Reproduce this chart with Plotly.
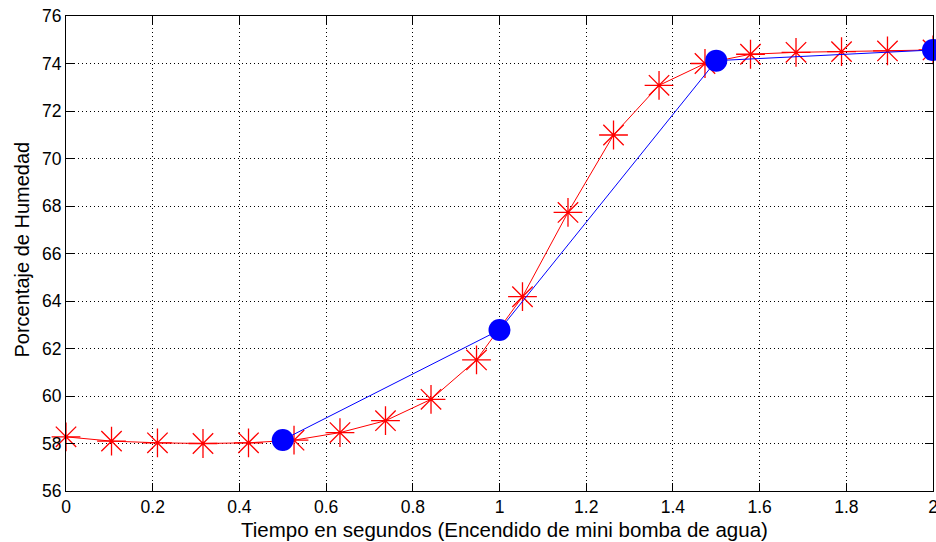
import plotly.graph_objects as go

# Red series (interpolated curve, 20 samples)
t_red = [0.0, 0.105, 0.211, 0.316, 0.421, 0.526, 0.632, 0.737, 0.842, 0.947,
         1.053, 1.158, 1.263, 1.368, 1.474, 1.579, 1.684, 1.789, 1.895, 2.0]
h_red = [58.28, 58.10, 58.03, 58.00, 58.03, 58.14, 58.46, 58.96, 59.86, 61.52,
         64.18, 67.73, 70.99, 73.08, 74.00, 74.39, 74.47, 74.50, 74.53, 74.57]

# Blue series (measured points)
t_blue = [0.5, 1.0, 1.5, 2.0]
h_blue = [58.15, 62.78, 74.12, 74.57]

x_ticks = [0, 0.2, 0.4, 0.6, 0.8, 1, 1.2, 1.4, 1.6, 1.8, 2]
x_ticklabels = ["0", "0.2", "0.4", "0.6", "0.8", "1", "1.2", "1.4", "1.6", "1.8", "2"]
y_ticks = [56, 58, 60, 62, 64, 66, 68, 70, 72, 74, 76]

x_title = "Tiempo en segundos (Encendido de mini bomba de agua)"
y_title = "Porcentaje de Humedad"

FONT = "Liberation Sans, Arial, sans-serif"

fig = go.Figure()
fig.add_trace(go.Scatter(
    x=t_red, y=h_red, mode="lines+markers",
    line=dict(color="#ff0000", width=1),
    marker=dict(symbol="asterisk-open", size=24,
                line=dict(color="rgba(225,40,55,0.85)", width=1.3)),
    cliponaxis=False, showlegend=False,
))
fig.add_trace(go.Scatter(
    x=t_blue, y=h_blue, mode="lines+markers",
    line=dict(color="#0000ff", width=1),
    marker=dict(symbol="circle", size=22, color="#0000ff", line=dict(width=0)),
    cliponaxis=False, showlegend=False,
))

axis_common = dict(
    showline=True, linecolor="black", linewidth=1, mirror="ticks",
    ticks="inside", ticklen=8, tickcolor="black", tickwidth=1,
    showgrid=True, gridcolor="black", gridwidth=1, griddash="1px,3px",
    zeroline=False, automargin=False, ticklabeloverflow="allow",
    tickfont=dict(family=FONT, size=17.5, color="black"),
)

fig.update_xaxes(range=[0, 2], tickvals=x_ticks, ticktext=x_ticklabels, **axis_common)
fig.update_yaxes(range=[56, 76], tickvals=y_ticks, **axis_common)

fig.add_annotation(text=x_title, xref="paper", yref="paper", x=0.5, y=0,
                   xanchor="center", yanchor="top", xshift=5, yshift=-25,
                   showarrow=False, font=dict(family=FONT, size=20.5, color="black"))
fig.add_annotation(text=y_title, xref="paper", yref="paper", x=0, y=0.5,
                   xanchor="center", yanchor="middle", xshift=-45, yshift=4,
                   textangle=-90,
                   showarrow=False, font=dict(family=FONT, size=20, color="black"))

fig.update_layout(
    width=936, height=542,
    margin=dict(l=66, r=3, t=16, b=51),
    paper_bgcolor="white", plot_bgcolor="white",
)

fig.write_html("out.html", config={"displayModeBar": False},
               post_script="document.body.style.margin='0';document.body.style.overflow='hidden';")
